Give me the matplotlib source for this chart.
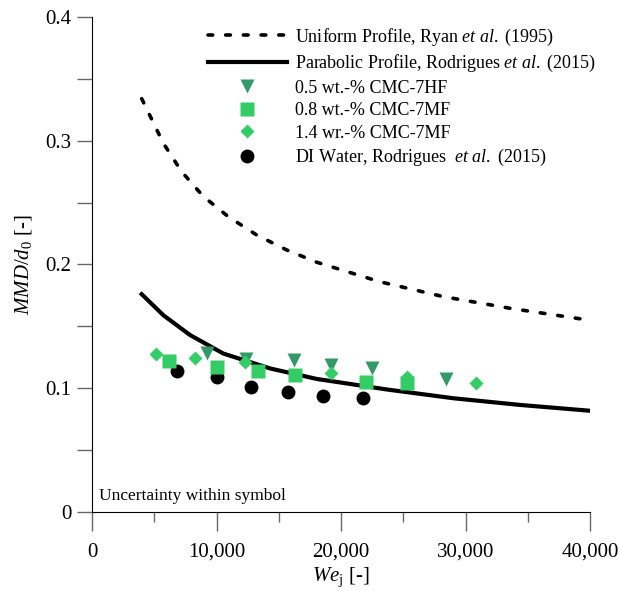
import numpy as np
import matplotlib
matplotlib.use('Agg')
import matplotlib.pyplot as plt
from matplotlib.ticker import MultipleLocator, FuncFormatter

plt.rcParams['font.family'] = ['Liberation Serif', 'DejaVu Serif']
plt.rcParams['mathtext.fontset'] = 'custom'
plt.rcParams['mathtext.rm'] = 'Liberation Serif'
plt.rcParams['mathtext.it'] = 'Liberation Serif:italic'

# model curves
uniform_we = [3990, 5730, 7200, 8940, 10950, 13230, 15640, 18050, 23130, 28220, 33570, 38930, 40000]
uniform_mmd = [0.334, 0.298, 0.275, 0.255, 0.2386, 0.2238, 0.2117, 0.2018, 0.186, 0.174, 0.1646, 0.1565, 0.155]
parabolic_we = [3990, 5730, 7870, 10550, 14300, 18050, 23670, 29020, 34380, 39860]
parabolic_mmd = [0.176, 0.159, 0.143, 0.128, 0.116, 0.1075, 0.099, 0.0919, 0.0865, 0.0819]

# measurements
hf05_we = [9210, 12340, 16225, 19197, 22460, 28430]
hf05_mmd = [0.1287, 0.124, 0.1228, 0.119, 0.1166, 0.1075]
mf08_we = [6185, 10040, 13333, 16330, 21980, 25276]
mf08_mmd = [0.1223, 0.1175, 0.1137, 0.1105, 0.1053, 0.104]
mf14_we = [5116, 8273, 12290, 19197, 25276, 30843]
mf14_mmd = [0.1277, 0.1242, 0.121, 0.112, 0.109, 0.104]
water_we = [6800, 10040, 12745, 15743, 18580, 21790]
water_mmd = [0.114, 0.1088, 0.1008, 0.097, 0.0937, 0.0919]

fig = plt.figure(figsize=(6.19, 5.91), dpi=100)
ax = fig.add_axes([0.1486, 0.1337, 0.8047, 0.8376])

ax.plot(uniform_we, uniform_mmd, color='black', lw=2.6, dashes=(1.3, 3.6),
        dash_capstyle='round', label=r'Uniform Profile, Ryan $\it{et\ al.}$ (1995)', zorder=2)
ax.plot(parabolic_we, parabolic_mmd, color='black', lw=3,
        label=r'Parabolic Profile, Rodrigues $\it{et\ al.}$ (2015)', zorder=2)
ax.plot(hf05_we, hf05_mmd, 'v', color='#339966', ms=10.5, mec='none',
        label='0.5 wt.-% CMC-7HF', zorder=4)
ax.plot(mf08_we, mf08_mmd, 's', color='#33cc66', ms=9.5, mec='none',
        label='0.8 wt.-% CMC-7MF', zorder=6)
ax.plot(mf14_we, mf14_mmd, 'D', color='#33cc66', ms=7.5, mec='none',
        label='1.4 wr.-% CMC-7MF', zorder=5)
ax.plot(water_we, water_mmd, 'o', color='black', ms=10, mec='none',
        label=r'DI Water, Rodrigues  $\it{et\ al.}$ (2015)', zorder=3)

ax.set_xlim(0, 40000)
ax.set_ylim(0, 0.4)
ax.spines['top'].set_visible(False)
ax.spines['right'].set_visible(False)
ax.xaxis.set_major_locator(MultipleLocator(10000))
ax.xaxis.set_minor_locator(MultipleLocator(5000))
ax.yaxis.set_major_locator(MultipleLocator(0.1))
ax.yaxis.set_minor_locator(MultipleLocator(0.05))
ax.xaxis.set_major_formatter(FuncFormatter(lambda v, p: f'{int(v):,}'))
ax.yaxis.set_major_formatter(FuncFormatter(lambda v, p: '0' if v == 0 else f'{v:.1f}'))
ax.tick_params(axis='both', which='both', direction='out', color='#666666', width=1, labelsize=15)
ax.tick_params(axis='x', which='major', length=14, pad=8)
ax.tick_params(axis='x', which='minor', length=7)
ax.tick_params(axis='y', which='both', length=11, pad=4)

ax.set_xlabel(r'$We_\mathrm{j}$ [-]', fontsize=15, labelpad=3)
ax.set_ylabel(r'$MMD/d_0$ [-]', fontsize=15, labelpad=8)

ax.text(0.015, 0.025, 'Uncertainty within symbol', transform=ax.transAxes, fontsize=12.5)

ax.legend(loc='upper right', frameon=False, fontsize=13, handlelength=4.4,
          handletextpad=0.45, labelspacing=0.3, borderaxespad=0.0,
          bbox_to_anchor=(1.027, 0.995))

fig.savefig('out.png', dpi=100)
